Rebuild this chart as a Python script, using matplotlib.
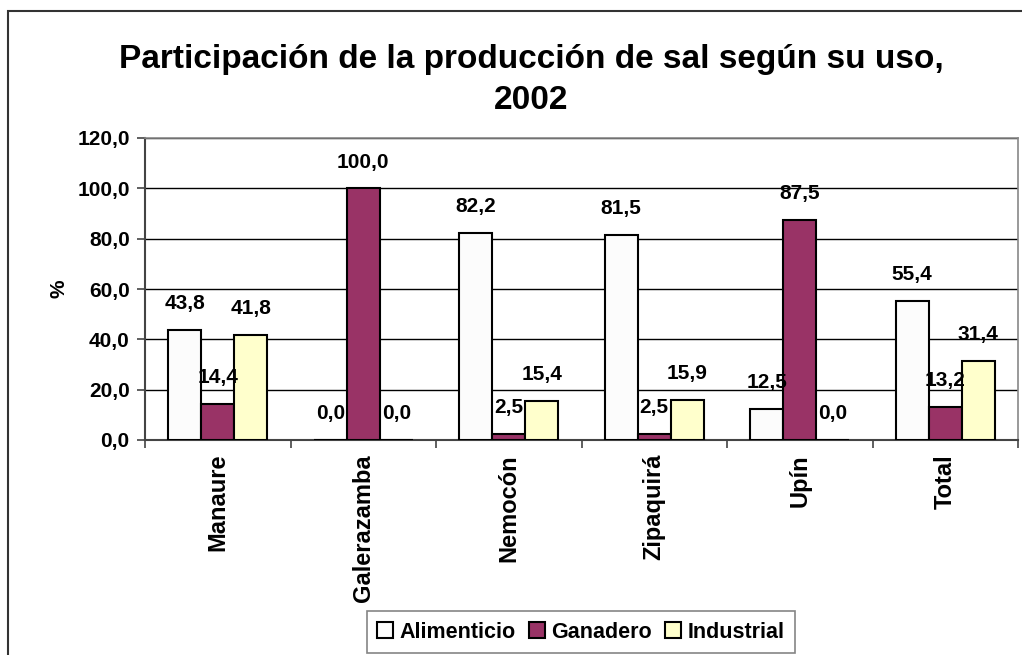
import numpy as np
import matplotlib.pyplot as plt
from matplotlib.patches import Rectangle

plt.rcParams['font.family'] = ['Liberation Sans', 'DejaVu Sans']
plt.rcParams['font.weight'] = 'bold'

# data
categorias = ['Manaure', 'Galerazamba', 'Nemocón', 'Zipaquirá', 'Upín', 'Total']
alimenticio = [43.8, 0.0, 82.2, 81.5, 12.5, 55.4]
ganadero = [14.4, 100.0, 2.5, 2.5, 87.5, 13.2]
industrial = [41.8, 0.0, 15.4, 15.9, 0.0, 31.4]
series = ['Alimenticio', 'Ganadero', 'Industrial']
colores = ['#FCFCFC', '#993366', '#FFFFCC']

fig = plt.figure(figsize=(10.22, 6.55), dpi=100)
ax = fig.add_axes([145 / 1022, 1 - 440 / 655, 873 / 1022, 302 / 655])

x = np.arange(len(categorias))
w = 0.227
bars = []
for i, (vals, nombre, col) in enumerate(zip([alimenticio, ganadero, industrial], series, colores)):
    pos = x + (i - 1) * w
    b = ax.bar(pos, vals, w, color=col, edgecolor='black', linewidth=1.5, label=nombre, zorder=3)
    bars.append(b)
    for px, v in zip(pos, vals):
        ax.annotate(f'{v:.1f}'.replace('.', ','), (px, v), xytext=(0, 15),
                    textcoords='offset points', ha='center', va='baseline',
                    fontsize=15, fontweight='bold', zorder=5)

ax.set_xlim(-0.5, len(categorias) - 0.5)
ax.set_ylim(0, 120)
ax.set_yticks(np.arange(0, 121, 20))
ax.set_yticklabels([f'{t:.1f}'.replace('.', ',') for t in np.arange(0, 121, 20)], fontsize=15)
ax.yaxis.grid(True, color='black', linewidth=1)
ax.set_axisbelow(True)

ax.set_xticks(x)
ax.set_xticklabels(categorias, rotation=90, fontsize=17, va='top')
ax.tick_params(axis='x', length=0, pad=10)
ax.set_xticks(np.arange(-0.5, len(categorias), 1), minor=True)
ax.tick_params(axis='x', which='minor', length=6, width=1.2, color='#444444')
ax.tick_params(axis='y', length=6, width=1.2, color='#444444', pad=5)

for s in ['top', 'right']:
    ax.spines[s].set_color('#888888')
    ax.spines[s].set_linewidth(1.2)
for s in ['left', 'bottom']:
    ax.spines[s].set_color('#444444')
    ax.spines[s].set_linewidth(1.5)

ax.set_ylabel('%', fontsize=15, fontweight='bold', labelpad=6)

fig.text(531 / 1022, 1 - 80 / 655, 'Participación de la producción de sal según su uso,\n2002',
         ha='center', va='center', fontsize=24, fontweight='bold', linespacing=1.4)

leg = fig.legend(handles=bars, labels=series, loc='center', bbox_to_anchor=(581 / 1022, 1 - 632 / 655),
                 ncol=3, frameon=True, fancybox=False, fontsize=15.5, handlelength=0.75, handleheight=0.75,
                 handletextpad=0.3, columnspacing=0.6, borderpad=0.5)
leg.get_frame().set_edgecolor('#666666')
leg.get_frame().set_linewidth(1.2)

fig.patches.append(Rectangle((8 / 1022, -0.05), 1.1, 1 - 11 / 655 + 0.05, transform=fig.transFigure,
                             fill=False, edgecolor='#333333', linewidth=1.5))

fig.savefig('out.png', dpi=100)
